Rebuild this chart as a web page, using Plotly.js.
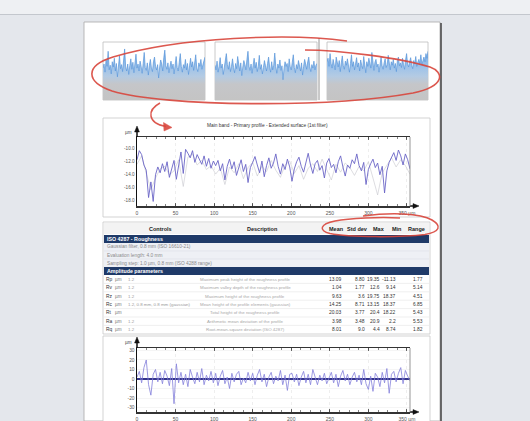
<!DOCTYPE html>
<html>
<head>
<meta charset="utf-8">
<script src="https://cdn.plot.ly/plotly-3.0.1.min.js"></script>
<style>html,body{margin:0;padding:0;background:#e4e7ec;}#chart{width:530px;height:421px;}</style>
</head>
<body>
<div id="chart"></div>
<script>
// ---------------- DATA ----------------
// three overview strips (relative height, 0-100)
const stripA = [55,62,48,70,58,84,52,60,45,66, 57,72,50,63,40,58,76,54,61,49, 68,88,57,50,62,44,59,71,53,65, 47,60,79,55,62,50,67,58,46,63,
 82,56,51,64,43,60,70,55,49,66, 74,58,52,61,38,57,69,62,50,73, 86,59,53,64,47,58,67,54,62,45, 60,75,56,50,65,80,58,48,61,55,
 70,52,63,44,59,72,57,66,51,62, 78,55,49,64,58,70,53,61,67,74];
const stripB = [60,52,67,48,58,73,55,62,44,57, 69,80,61,53,66,49,58,71,56,47, 63,54,75,59,50,64,42,57,68,61, 52,70,84,58,51,62,46,60,72,55,
 65,49,58,77,53,61,45,56,68,59, 50,63,74,57,48,66,52,60,81,58, 46,62,55,69,51,59,35,54,66,58, 63,49,71,57,52,65,78,56,47,61,
 54,68,59,50,64,43,58,70,62,53, 66,74,57,49,61,55,67,52,60,63];
const stripC = [66,72,58,80,63,55,70,61,52,74, 62,57,68,49,64,76,59,53,67,60, 71,56,48,63,78,58,66,52,61,73, 57,64,50,69,60,54,75,62,47,66,
 58,72,63,55,82,60,51,65,70,57, 62,48,67,74,59,53,64,71,56,61, 77,58,52,66,60,70,55,63,49,68, 74,59,64,56,72,61,53,69,80,62,
 57,66,73,60,54,68,62,75,58,65, 70,63,78,61,68,74,66,80,72,84];

// primary profile (µm), sampled every 3 µm
const profileStep = 3;
const profile = [-11.8,-10.4,-11.0,-12.6,-13.4,-17.6,-15.2,-18.2,-14.1,-12.9,-13.8,
 -12.4,-13.6,-12.1,-14.5,-13.0,-11.9,-14.8,-12.6,-10.6,-13.9,
 -10.2,-10.8,-11.5,-10.4,-12.2,-11.0,-11.7,-12.5,-11.2,-12.8,-11.6,-13.1,-12.0,
 -12.7,-11.9,-13.5,-12.4,-14.9,-12.8,-11.7,-13.2,-12.1,-14.2,-12.9,-11.8,-13.6,-12.5,-15.3,-13.0,-12.2,
 -11.3,-12.6,-13.8,-12.0,-14.4,-12.7,-11.5,-13.1,-12.3,-10.9,-12.8,-14.0,-12.4,-13.3,-11.7,-12.9,-15.1,
 -13.2,-12.1,-11.4,-12.8,-13.7,-12.2,-10.8,-12.6,-13.9,-12.4,-11.9,-13.4,-12.7,-14.6,-12.3,-11.6,-13.0,
 -12.5,-13.8,-12.1,-11.2,-12.9,-14.3,-12.6,-13.1,-11.8,-12.4,-10.9,-12.7,-13.5,-12.2,-15.6,-13.3,-12.4,
 -11.7,-13.0,-12.3,-14.1,-12.8,-16.9,-13.5,-12.2,-11.4,-10.7,-11.9,-10.3,-11.2,-12.6,-10.9,-11.8,-13.2];
// raw companion profile (µm), sampled every 6 µm
const rawStep = 6;
const rawProfile = [-12.5,-11.2,-13.9,-16.4,-14.6,-13.2,-12.8,-14.1,-13.5,-11.8,-15.9,-11.4,-10.9,-12.6,-11.9,-13.3,-12.7,-14.0,-13.1,-15.6,
 -12.9,-13.8,-12.4,-14.7,-13.0,-12.2,-14.3,-12.8,-13.6,-11.9,-13.4,-14.5,-12.6,-12.0,-13.9,-12.7,-14.8,-13.1,-12.4,-13.6,
 -11.7,-13.2,-14.9,-12.5,-13.7,-12.3,-13.0,-14.2,-12.8,-13.5,-12.1,-14.6,-17.2,-13.8,-12.6,-11.5,-12.9,-11.8,-12.7,-14.0];
// roughness profile (µm), sampled every 3 µm
const roughness = [2,8,-4,12,20,-6,-17,5,10,-3,7,
 -5,9,3,-7,11,-26,16,-4,7,-6,
 5,-8,10,2,-5,7,-3,11,-6,4,-2,8,-4,
 6,-7,3,9,-5,2,-10,6,-3,5,8,-6,1,-4,7,-2,6,
 -6,4,10,-3,5,-8,2,7,-5,3,-2,9,-6,4,-12,5,6,
 -3,5,-7,2,8,-4,5,-6,10,3,-6,4,-2,6,-5,1,7,
 -4,5,-8,3,9,-2,5,-6,2,7,-3,4,-6,10,-5,-11,3,
 -13,6,2,-8,7,-4,11,-15,5,8,-3,6,12,-5,9,3,-2];

const xTickVals = [0,50,100,150,200,250,300,350];
const xTickText = ['0','50','100','150','200','250','300','350 µm'];
const profTickVals = [-10,-12,-14,-16,-18];
const profTickText = ['-10.0','-12.0','-14.0','-16.0','-18.0'];
const roughTickVals = [30,20,10,0,-10,-20,-30];
const roughTickText = ['30','20','10','0','-10','-20','-30'];

// table
const tableHeader = ['Controls','Description','Mean','Std dev','Max','Min','Range'];
const section1 = 'ISO 4287 - Roughness';
const settings = ['Gaussian filter, 0.8 mm (ISO 16610-21)','Evaluation length: 4.0 mm','Sampling step: 1.0 µm, 0.8 mm (ISO 4288 range)'];
const section2 = 'Amplitude parameters';
const paramNames = ['Rp','Rv','Rz','Rc','Rt','Ra','Rq'];
const paramUnits = ['µm','µm','µm','µm','µm','µm','µm'];
const paramOpts = ['1.2','1.2','1.2','1.2, 0.8 mm, 0.8 mm (gaussian)','','1.2','1.2'];
const paramDesc = ['Maximum peak height of the roughness profile','Maximum valley depth of the roughness profile','Maximum height of the roughness profile','Mean height of the profile elements (gaussian)','Total height of the roughness profile','Arithmetic mean deviation of the profile','Root-mean-square deviation (ISO 4287)'];
const colMean = ['13.09','1.04','9.63','14.25','20.03','3.98','8.01'];
const colStd = ['8.80','1.77','3.6','8.71','3.77','3.48','9.0'];
const colMax = ['19.35','12.6','19.75','13.15','20.4','20.9','4.4'];
const colMin = ['-11.13','9.14','18.37','18.37','18.22','2.2','8.74'];
const colRange = ['1.77','5.14','4.51','6.85','5.43','5.53','1.82'];

const mainTitle = 'Main band - Primary profile - Extended surface (1st filter)';

// ---------------- LAYOUT HELPERS ----------------
const W = 530, H = 421;
const X = p => p / W;
const Y = p => 1 - p / H;
const FONT = 'Liberation Sans, Arial, sans-serif';
const shapes = [];
const ann = [];
function rect(x0,y0,x1,y1,fill,lc,lw,layer){
  shapes.push({type:'rect',xref:'paper',yref:'paper',x0:X(x0),x1:X(x1),y0:Y(y1),y1:Y(y0),
    fillcolor:fill||'rgba(0,0,0,0)',line:{color:lc||'rgba(0,0,0,0)',width:lw||0},layer:layer||'below'});
}
function seg(x0,y0,x1,y1,color,w,layer){
  shapes.push({type:'line',xref:'paper',yref:'paper',x0:X(x0),x1:X(x1),y0:Y(y0),y1:Y(y1),
    line:{color:color,width:w},layer:layer||'below'});
}
function pathPx(d,color,w,fill,layer,opacity){
  const conv = d.replace(/(-?\d+\.?\d*),(-?\d+\.?\d*)/g,(m,a,b)=>X(+a).toFixed(5)+','+Y(+b).toFixed(5));
  shapes.push({type:'path',xref:'paper',yref:'paper',path:conv,fillcolor:fill||'rgba(0,0,0,0)',
    line:{color:color,width:w},layer:layer||'above',opacity:opacity==null?1:opacity});
}
function txt(x,y,text,size,color,anchor,bold){
  ann.push({xref:'paper',yref:'paper',x:X(x),y:Y(y),text:bold?'<b>'+text+'</b>':text,showarrow:false,
    xanchor:anchor||'left',yanchor:'middle',borderpad:0,font:{size:size,color:color,family:FONT}});
}

// ---------------- BACKGROUND / PAGE ----------------
rect(0,0,530,14,'#eef0f3');
seg(0,14.5,530,14.5,'#c3c7cd',1);
rect(84,22,440,421,'#ffffff','#a8a8a8',0.8);
seg(441,23,441,421,'#4a4a4a',1.6);
rect(103,42,205,100,'#ffffff','#bdbdbd',0.8);
rect(215,42,317,100,'#ffffff','#bdbdbd',0.8);
rect(327,42,428,100,'#ffffff','#bdbdbd',0.8);
seg(319,38,319,100,'#7a7a7a',0.8);
rect(103,118,430,217,'#ffffff','#c8c8c8',0.8);
rect(103,222,430,334,'#ffffff','#c8c8c8',0.8);
rect(103,336,430,430,'#ffffff','#c8c8c8',0.8);

// ---------------- TABLE ----------------
rect(104,223,429,234,'#f3f3f3');
const hdrX = [160,262,336,357,379,397,416];
tableHeader.forEach((t,i)=>txt(hdrX[i],228.5,t,5.5,'#222','center',true));
rect(104,235,429,243,'#1f3a68');
txt(106,239,section1,5.3,'#ffffff','left',true);
rect(104,243,429,267,'#eef0f5');
seg(104,251,429,251,'#dcdfe6',0.6);
seg(104,259,429,259,'#dcdfe6',0.6);
settings.forEach((t,i)=>txt(106,247+i*8,t,4.8,'#8a8a8a','left'));
rect(104,267,429,275,'#1f3a68');
txt(106,271,section2,5.3,'#ffffff','left',true);
const rowH = 8.4;
paramNames.forEach((n,i)=>{
  const yc = 279.2 + i*rowH;
  if(i>0) seg(104,275+i*rowH,429,275+i*rowH,'#e4e4e4',0.6);
  txt(105,yc,n,4.9,'#333','left');
  txt(114,yc,paramUnits[i],4.6,'#777','left');
  txt(127,yc,paramOpts[i],4.4,'#9a9a9a','left');
  txt(245,yc,paramDesc[i],4.4,'#a8a8a8','center');
  txt(343,yc,colMean[i],4.9,'#333','right');
  txt(366,yc,colStd[i],4.9,'#333','right');
  txt(381,yc,colMax[i],4.9,'#333','right');
  txt(397,yc,colMin[i],4.9,'#333','right');
  txt(424,yc,colRange[i],4.9,'#333','right');
});

// ---------------- CHART TEXT / ARROWS ----------------
txt(267,125,mainTitle,4.8,'#333','center');
txt(133,133,'µm',4.6,'#444','right');
txt(133,342,'µm',4.6,'#444','right');
seg(137,137,137,130,'#111',1.5,'above');
pathPx('M 137,126 L 134.6,132 L 139.4,132 Z','#111',0.5,'#111','above');
seg(410,206,414,206,'#111',1.5,'above');
pathPx('M 419,206 L 413,203.6 L 413,208.4 Z','#111',0.5,'#111','above');
seg(410,137,410,206,'#8a8a8a',0.9,'above');
seg(137,348,137,341,'#111',1.5,'above');
pathPx('M 137,337 L 134.6,343 L 139.4,343 Z','#111',0.5,'#111','above');
seg(410,412,414,412,'#111',1.5,'above');
pathPx('M 419,412 L 413,409.6 L 413,414.4 Z','#111',0.5,'#111','above');
seg(410,348,410,412,'#8a8a8a',0.9,'above');

// ---------------- RED ANNOTATIONS ----------------
const RED = '#d9463c';
pathPx('M 347,41 C 290,33 180,37 113,57 C 84,66 86,82 112,91 C 165,107 330,108 413,93 C 446,86 444,72 430,67 C 400,58 340,50 305,50', RED, 1.6, null, 'above', 0.9);
pathPx('M 160,103 C 147,110 147,123 166,126.5', RED, 1.5, null, 'above', 0.9);
pathPx('M 172,127.5 L 163.5,122.5 L 164,131 Z', RED, 0.5, RED, 'above', 0.9);
pathPx('M 363,216 C 390,212.5 420,213 432,220 C 442,226 440,232 425,234.5 C 400,237.5 350,237.5 330,233.5 C 318,230.5 320,224 335,221 C 350,218 380,217 400,218', RED, 1.5, null, 'above', 0.9);

// ---------------- TRACES ----------------
const idx = arr => arr.map((_,i)=>i);
const stripGrad = {type:'vertical',start:0,stop:85,colorscale:[[0,'#c4c4c4'],[0.32,'#c5c6c9'],[0.48,'#b4cbe3'],[0.65,'#9fc3e9'],[0.85,'#84b4e8'],[1,'#6aa3e2']]};
function stripTrace(arr,xa,ya){
  return {x:idx(arr),y:arr,xaxis:xa,yaxis:ya,type:'scatter',mode:'lines',
    line:{color:'#5a97da',width:0.7},fill:'tozeroy',fillgradient:stripGrad,hoverinfo:'skip'};
}
const traces = [
  stripTrace(stripA,'x','y'),
  stripTrace(stripB,'x2','y2'),
  stripTrace(stripC,'x3','y3'),
  {x:rawProfile.map((_,i)=>i*rawStep),y:rawProfile,xaxis:'x4',yaxis:'y4',type:'scatter',mode:'lines',
    line:{color:'#c6c6cc',width:0.6},hoverinfo:'skip'},
  {x:profile.map((_,i)=>i*profileStep),y:profile,xaxis:'x4',yaxis:'y4',type:'scatter',mode:'lines',
    line:{color:'#6a64c6',width:0.9},hoverinfo:'skip'},
  {x:roughness.map((_,i)=>i*profileStep),y:roughness,xaxis:'x5',yaxis:'y5',type:'scatter',mode:'lines',
    line:{color:'#8480da',width:0.8},hoverinfo:'skip'}
];

const hidden = (dom,anchor,range)=>({domain:dom,anchor:anchor,range:range,visible:false,fixedrange:true});
function profX(dom,anchor){
  return {domain:dom,anchor:anchor,range:[0,354],tickmode:'array',tickvals:xTickVals,ticktext:xTickText,
    ticks:'inside',ticklen:3,tickcolor:'#444',tickwidth:0.8,showline:true,linecolor:'#333',linewidth:1.5,
    mirror:'allticks',showgrid:true,gridcolor:'#e2e2e2',griddash:'dot',gridwidth:0.6,zeroline:false,
    tickfont:{size:5,color:'#555',family:FONT},ticklabelstandoff:1,
    minor:{dtick:12.5,tick0:0,ticks:'inside',ticklen:1.8,tickcolor:'#666',showgrid:false},fixedrange:true};
}
const layout = {
  width:W,height:H,margin:{l:0,r:0,t:0,b:0},
  paper_bgcolor:'#e4e7ec',plot_bgcolor:'rgba(0,0,0,0)',showlegend:false,
  xaxis:hidden([X(103),X(205)],'y',[0,stripA.length-1]),
  yaxis:hidden([Y(100),Y(42)],'x',[0,100]),
  xaxis2:hidden([X(215),X(317)],'y2',[0,stripB.length-1]),
  yaxis2:hidden([Y(100),Y(42)],'x2',[0,100]),
  xaxis3:hidden([X(327),X(428)],'y3',[0,stripC.length-1]),
  yaxis3:hidden([Y(100),Y(42)],'x3',[0,100]),
  xaxis4:profX([X(137),X(410)],'y4'),
  yaxis4:{domain:[Y(206),Y(137)],anchor:'x4',range:[-18.9,-8.3],tickmode:'array',tickvals:profTickVals,ticktext:profTickText,
    ticks:'',showline:true,linecolor:'#111',linewidth:1.5,showgrid:false,zeroline:false,
    tickfont:{size:4.6,color:'#555',family:FONT},fixedrange:true},
  xaxis5:profX([X(137),X(410)],'y5'),
  yaxis5:{domain:[Y(412),Y(348)],anchor:'x5',range:[-34.7,32.6],tickmode:'array',tickvals:roughTickVals,ticktext:roughTickText,
    ticks:'',showline:true,linecolor:'#111',linewidth:1.5,showgrid:true,gridcolor:'#eeeeee',gridwidth:0.6,
    zeroline:true,zerolinecolor:'#34348a',zerolinewidth:1.5,
    tickfont:{size:4.8,color:'#555',family:FONT},fixedrange:true},
  shapes:shapes,
  annotations:ann
};
Plotly.newPlot('chart',traces,layout,{displayModeBar:false,staticPlot:true});
</script>
</body>
</html>
